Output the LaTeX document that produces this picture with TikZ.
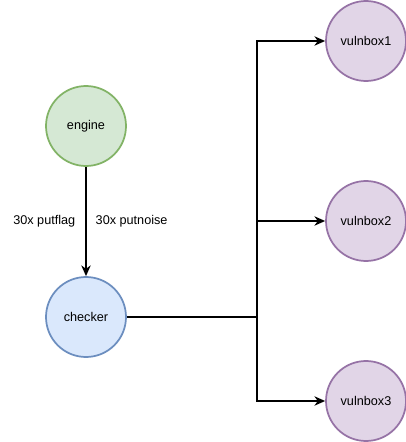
\documentclass[tikz,border=0pt]{standalone}
\usepackage{fontspec}
\setmainfont{Liberation Sans}
\usepackage{xcolor}
\usetikzlibrary{arrows.meta}

\definecolor{engfill}{HTML}{D5E8D4}
\definecolor{engline}{HTML}{82B366}
\definecolor{chkfill}{HTML}{DAE8FC}
\definecolor{chkline}{HTML}{6C8EBF}
\definecolor{vbfill}{HTML}{E1D5E7}
\definecolor{vbline}{HTML}{9673A6}

\tikzset{
	ball/.style={circle, minimum size=60pt, inner sep=0pt, line width=1.3pt, font=\fontsize{9.5}{11}\selectfont},
	edge/.style={-{Stealth[length=8pt,width=7pt,inset=2.5pt]}, line width=1.3pt}
}

\begin{document}
\begin{tikzpicture}[x=0.75pt, y=-0.75pt]
	\useasboundingbox (0,0) rectangle (406,442);

	\node[ball, draw=engline, fill=engfill] (engine) at (86,126) {engine};
	\node[ball, draw=chkline, fill=chkfill] (checker) at (86,317) {checker};
	\node[ball, draw=vbline, fill=vbfill] (vb1) at (366,41) {vulnbox1};
	\node[ball, draw=vbline, fill=vbfill] (vb2) at (366,221) {vulnbox2};
	\node[ball, draw=vbline, fill=vbfill] (vb3) at (366,401) {vulnbox3};

	\draw[edge] (engine) -- (checker);
	\node[left, font=\fontsize{9.5}{11}\selectfont] (putflag) at (80,221) {30x putflag};
	\node[right, font=\fontsize{9.5}{11}\selectfont] (putnoise) at (91,221) {30x putnoise};

	% checker fans out to the boxes
	\coordinate (split) at (257,317);
	\draw[line width=2.2pt] (checker) -- (split);
	\draw[edge] (split) |- (vb1);
	\draw[edge] (split) |- (vb2);
	\draw[edge] (split) |- (vb3);
\end{tikzpicture}
\end{document}
